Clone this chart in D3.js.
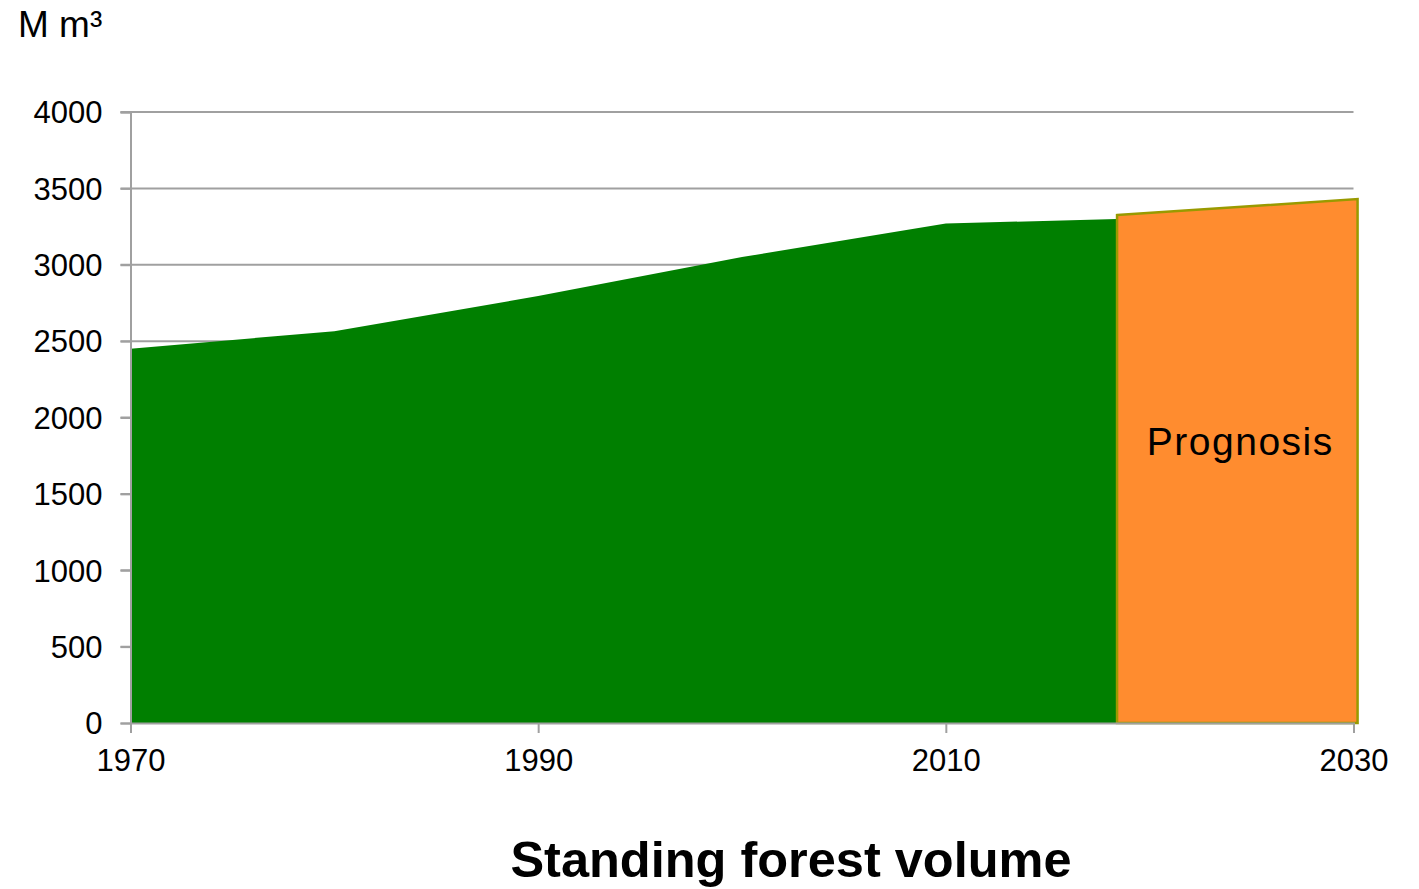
<!DOCTYPE html>
<html>
<head>
<meta charset="utf-8">
<script src="https://cdn.jsdelivr.net/npm/d3@7"></script>
<style>
  html, body { margin: 0; padding: 0; background: #fff; }
  svg { display: block; font-family: "Liberation Sans", Arial, sans-serif; }
</style>
</head>
<body>
<svg id="chart" width="1419" height="889"></svg>
<script>
// Standing forest volume, million cubic metres
const historyYears  = [1970, 1980, 1990, 2000, 2010, 2018.4];
const historyVolume = [2450, 2565, 2795, 3050, 3270, 3300];

const prognosisYears  = [2018.4, 2030.2];
const prognosisVolume = [3325, 3430];

const yTicks = [0, 500, 1000, 1500, 2000, 2500, 3000, 3500, 4000];
const xTicks = [1970, 1990, 2010, 2030];

const unitLabel = "M m³";
const prognosisLabel = "Prognosis";
const titleText = "Standing forest volume";

const svg = d3.select("#chart");
const margin = { left: 130.5, right: 1353.5, top: 112, bottom: 723 };

const x = d3.scaleLinear().domain([1970, 2030]).range([margin.left, margin.right]);
const y = d3.scaleLinear().domain([0, 4000]).range([margin.bottom, margin.top]);

const axisColor = "#a0a0a0";

// Horizontal gridlines
svg.append("g")
  .selectAll("line")
  .data(yTicks.filter(d => d > 0))
  .join("line")
  .attr("x1", margin.left - 10)
  .attr("x2", margin.right)
  .attr("y1", d => y(d))
  .attr("y2", d => y(d))
  .attr("stroke", axisColor)
  .attr("stroke-width", 2);

// Historical volume area
const history = historyYears.map((t, i) => ({ t, v: historyVolume[i] }));
const area = d3.area().x(d => x(d.t)).y0(y(0)).y1(d => y(d.v));
svg.append("path")
  .datum(history)
  .attr("d", area)
  .attr("fill", "#007f00");

// Prognosis area
const prognosis = prognosisYears.map((t, i) => ({ t, v: prognosisVolume[i] }));
svg.append("path")
  .datum(prognosis)
  .attr("d", d => area(d) + "Z")
  .attr("fill", "#ff8c2f")
  .attr("stroke", "#999a00")
  .attr("stroke-width", 2.5)
  .attr("stroke-linejoin", "miter");

// Axes
const yAxis = svg.append("g")
  .attr("transform", `translate(${margin.left},0)`)
  .call(d3.axisLeft(y).tickValues(yTicks).tickSize(10).tickPadding(18).tickFormat(d3.format("d")));

const xAxis = svg.append("g")
  .attr("transform", `translate(0,${margin.bottom})`)
  .call(d3.axisBottom(x).tickValues(xTicks).tickSize(10).tickPadding(16).tickFormat(d3.format("d")));

[yAxis, xAxis].forEach(g => {
  g.select(".domain").attr("stroke", axisColor).attr("stroke-width", 2);
  g.selectAll(".tick line").attr("stroke", axisColor).attr("stroke-width", 2);
  g.selectAll(".tick text")
    .attr("fill", "#000")
    .style("font-size", "31px")
    .style("font-family", "'Liberation Sans', Arial, sans-serif");
});
yAxis.selectAll(".tick text").attr("dy", "0.35em");

// Unit label
svg.append("text")
  .attr("x", 18)
  .attr("y", 37)
  .style("font-size", "37px")
  .attr("fill", "#000")
  .text(unitLabel);

// Prognosis label centred in its area
svg.append("text")
  .attr("x", (x(prognosisYears[0]) + x(prognosisYears[1])) / 2 + 3)
  .attr("y", 455)
  .attr("text-anchor", "middle")
  .style("font-size", "39px")
  .style("letter-spacing", "1.5px")
  .attr("fill", "#000")
  .text(prognosisLabel);

// Title
svg.append("text")
  .attr("x", 791)
  .attr("y", 877)
  .attr("text-anchor", "middle")
  .style("font-size", "50.5px")
  .style("font-weight", "bold")
  .attr("fill", "#000")
  .text(titleText);
</script>
</body>
</html>
